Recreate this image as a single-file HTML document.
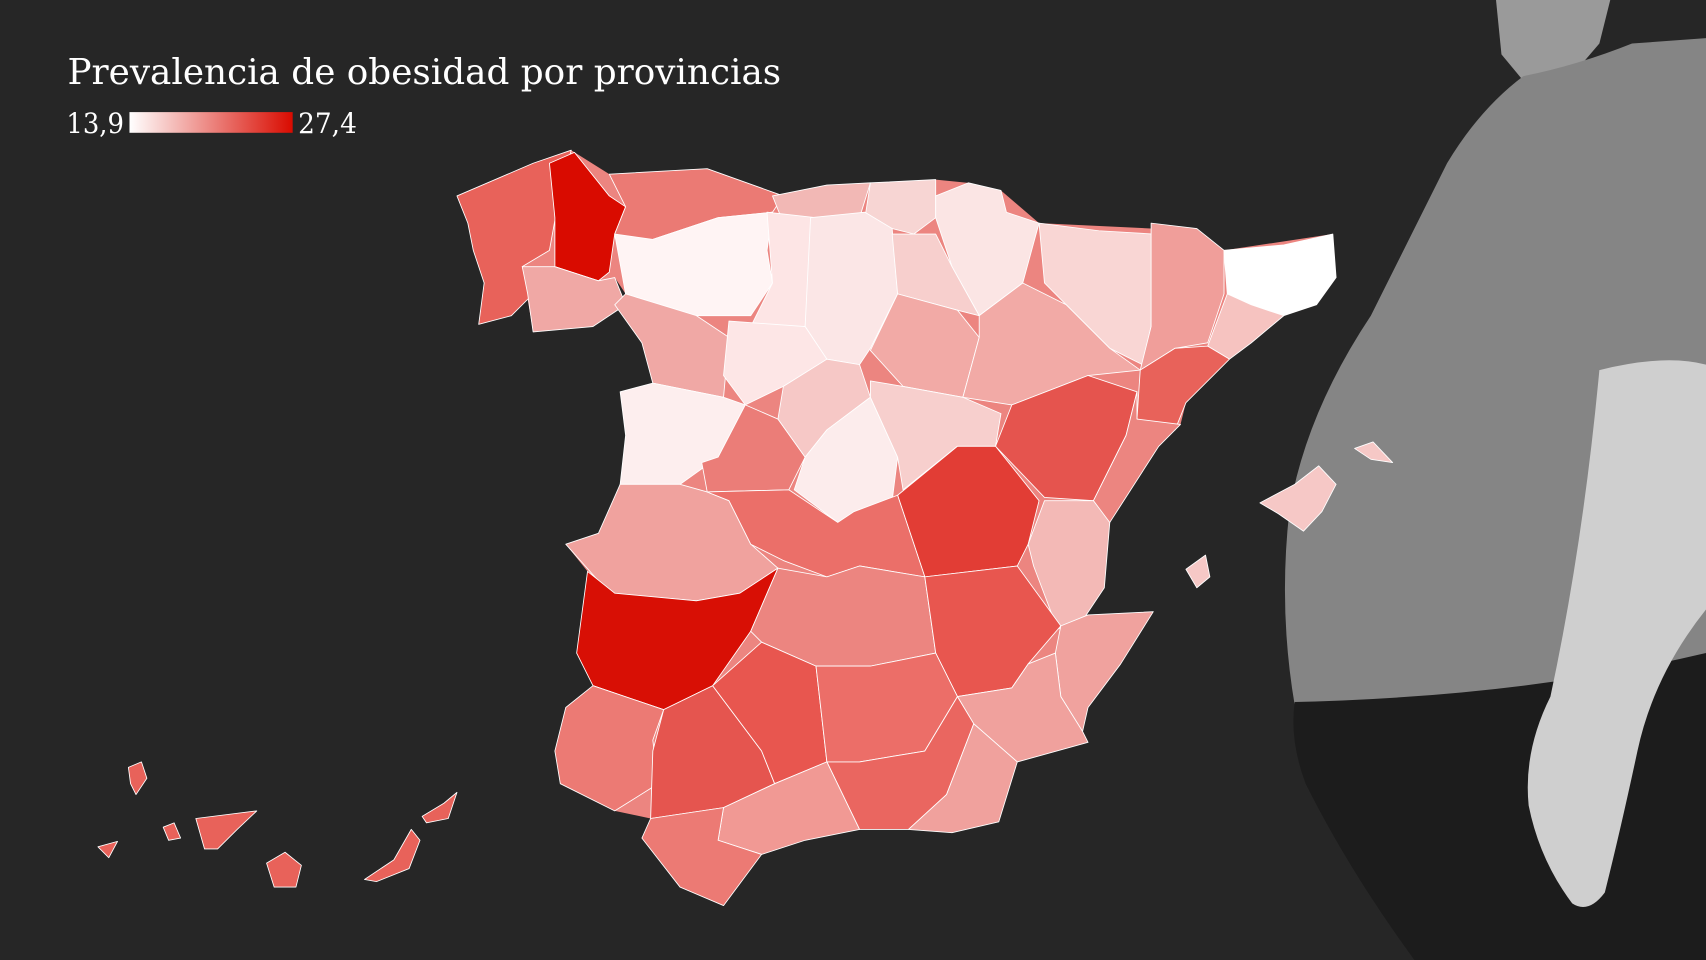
<!DOCTYPE html>
<html><head><meta charset="utf-8"><style>
html,body{margin:0;padding:0;background:#262626;overflow:hidden}
svg{display:block}
</style></head><body>
<svg width="1706" height="960" viewBox="0 0 1568 882" preserveAspectRatio="none" xmlns="http://www.w3.org/2000/svg">
<rect width="1568" height="882" fill="#262626"/>
<!-- man -->
<path d="M1375,0 L1480,0 L1470,40 L1440,75 L1405,80 L1380,50 Z" fill="#9a9a9a"/>
<path d="M1400,70 Q1450,60 1500,40 L1568,35 L1568,620 Q1400,645 1190,648 Q1175,560 1185,470 Q1200,380 1260,290 Q1300,210 1330,150 Q1360,100 1400,70 Z" fill="#858585"/>
<path d="M1190,645 Q1400,640 1568,600 L1568,882 L1300,882 Q1240,800 1200,720 Q1185,680 1190,645 Z" fill="#1c1c1c"/>
<path d="M1470,340 Q1530,325 1568,335 L1568,560 Q1520,620 1505,690 Q1490,760 1475,820 Q1460,840 1445,830 Q1415,790 1405,740 Q1400,690 1425,640 Q1455,500 1470,340 Z" fill="#cfcfcf"/>
<!-- underlay -->
<polygon fill="#ec8580" points="420,180 525,138 560,160 650,155 720,180 800,168 860,165 890,168 920,175 955,205 1060,210 1100,210 1125,230 1225,215 1228,255 1210,280 1180,290 1130,330 1090,370 1085,390 1065,410 1020,480 1015,540 995,570 1060,562 1030,610 1000,650 995,672 1000,682 935,700 918,755 875,765 835,762 790,762 740,772 700,785 665,832 625,815 590,770 598,752 565,745 515,720 510,690 520,650 545,630 530,600 540,525 520,500 550,490 570,445 575,400 570,360 600,352 590,315 565,280 575,270 565,255 550,258 545,300 490,305 480,245 470,290 440,298 445,260 435,230 430,205"/>
<g stroke="#ffffff" stroke-width="0.8" stroke-linejoin="round">
<polygon fill="#e8625a" points="420,180 490,150 525,138 515,175 505,230 480,245 490,270 470,290 440,298 445,260 435,230 430,205"/>
<polygon fill="#d90b00" points="505,150 528,140 560,180 575,190 565,215 560,250 550,258 510,245 510,200"/>
<polygon fill="#f0a8a5" points="480,245 510,245 550,258 565,255 575,280 545,300 490,305 485,270"/>
<polygon fill="#eb7a74" points="560,160 650,155 720,180 710,195 660,200 600,220 575,240 565,215 575,190"/>
<polygon fill="#f2b8b5" points="710,180 760,170 800,168 790,200 760,205 720,205"/>
<polygon fill="#f7d5d3" points="800,168 860,165 860,200 840,215 820,210 795,200"/>
<polygon fill="#fbe5e4" points="860,180 890,168 920,175 925,195 955,205 940,260 900,290 875,245 860,200"/>
<polygon fill="#fff4f4" points="565,215 600,220 660,200 710,195 705,230 710,260 690,290 640,290 575,270"/>
<polygon fill="#fde5e5" points="705,195 750,200 745,260 740,300 690,300 710,260"/>
<polygon fill="#fbe6e6" points="745,200 795,195 820,210 825,270 800,320 790,335 760,330 740,300"/>
<polygon fill="#f7cfcd" points="820,215 860,215 875,245 900,290 880,285 825,270"/>
<polygon fill="#f9d6d4" points="955,205 1010,212 1060,215 1058,300 1050,335 1020,320 980,280 960,260"/>
<polygon fill="#f09e9a" points="1058,205 1100,210 1125,230 1125,270 1110,315 1080,320 1048,340 1058,300"/>
<polygon fill="#ffffff" points="1125,230 1180,225 1225,215 1228,255 1210,280 1180,290 1150,280 1128,270"/>
<polygon fill="#f6c3c0" points="1128,270 1150,280 1180,290 1150,315 1130,330 1110,318"/>
<polygon fill="#e8625a" points="1048,340 1080,320 1110,318 1130,330 1090,370 1080,395 1045,385"/>
<polygon fill="#f0a8a5" points="565,280 575,270 640,290 670,310 665,365 600,352 590,315"/>
<polygon fill="#fde6e6" points="670,295 740,300 760,330 720,355 685,372 665,345"/>
<polygon fill="#f2aaa6" points="825,270 880,285 900,310 885,365 830,355 800,322"/>
<polygon fill="#f2aaa6" points="900,290 940,260 980,280 1020,320 1048,340 1000,345 930,372 885,365 900,310"/>
<polygon fill="#e5544e" points="930,372 1000,345 1045,360 1035,400 1005,460 960,457 915,410"/>
<polygon fill="#ec8580" points="1045,360 1045,385 1085,390 1065,410 1020,480 990,470 1005,460 1035,400"/>
<polygon fill="#fdeeee" points="570,360 600,352 665,365 685,372 660,420 625,445 570,445 575,400"/>
<polygon fill="#eb7d78" points="685,372 715,385 740,420 725,450 650,452 645,425 660,420"/>
<polygon fill="#f6c8c6" points="720,355 760,330 790,335 800,365 760,395 740,420 715,385"/>
<polygon fill="#fcecec" points="800,365 825,420 820,460 785,470 770,480 730,450 740,420 760,395"/>
<polygon fill="#f7cfcd" points="800,350 830,355 885,365 920,380 915,410 880,410 830,450 825,420 800,365"/>
<polygon fill="#e23d35" points="825,455 880,410 915,410 955,460 945,500 935,520 850,530"/>
<polygon fill="#f3b9b6" points="960,460 1005,460 1020,480 1015,540 995,570 972,578 950,520 945,500"/>
<polygon fill="#f0a29e" points="570,445 625,445 650,452 670,460 690,500 715,522 680,545 640,552 560,545 520,500 550,490"/>
<polygon fill="#eb6f69" points="650,452 725,450 770,480 785,470 825,455 850,530 790,520 760,530 720,515 690,500 670,460"/>
<polygon fill="#d80f05" points="540,525 565,545 640,552 680,545 715,522 690,580 655,630 610,652 545,630 530,600"/>
<polygon fill="#ec8580" points="715,522 760,530 790,520 850,530 860,600 800,612 750,612 700,590 690,580"/>
<polygon fill="#e8564f" points="850,530 935,520 975,575 945,610 930,632 880,640 860,600"/>
<polygon fill="#f0a29e" points="975,575 1000,565 1060,562 1030,610 1000,650 995,672 975,640 970,600"/>
<polygon fill="#f0a19d" points="880,640 930,632 945,610 970,600 975,640 995,672 1000,682 935,700 895,665"/>
<polygon fill="#ec7a74" points="545,630 610,652 600,680 605,720 565,745 515,720 510,690 520,650"/>
<polygon fill="#e5554f" points="610,652 655,630 700,690 712,720 665,742 598,752 600,690"/>
<polygon fill="#e8564f" points="655,630 700,590 750,612 760,700 712,720 700,690"/>
<polygon fill="#ec6e68" points="750,612 800,612 860,600 880,640 850,690 790,700 760,700"/>
<polygon fill="#ea6660" points="760,700 790,700 850,690 880,640 895,665 870,730 835,762 790,762"/>
<polygon fill="#f0a19d" points="895,665 935,700 918,755 875,765 835,762 870,730"/>
<polygon fill="#f19994" points="665,742 712,720 760,700 790,762 740,772 700,785 660,772"/>
<polygon fill="#ec7a74" points="598,752 665,742 660,772 700,785 665,832 625,815 590,770"/>
<polygon fill="#f6c8c6" points="1158,462 1190,445 1212,428 1228,445 1215,470 1198,488 1175,472"/>
<polygon fill="#f6c8c6" points="1245,412 1262,406 1280,425 1260,422"/>
<polygon fill="#f6c8c6" points="1090,523 1108,510 1112,530 1100,540"/>
<polygon fill="#e8625a" points="118,705 130,700 135,715 125,730 120,720"/>
<polygon fill="#e8625a" points="90,778 108,773 100,788"/>
<polygon fill="#e8625a" points="150,760 160,756 166,770 155,772"/>
<polygon fill="#e8625a" points="180,752 236,745 218,762 200,780 188,780"/>
<polygon fill="#e8625a" points="245,793 262,783 277,795 272,815 252,815"/>
<polygon fill="#e8625a" points="335,808 362,790 378,762 386,772 376,798 346,810"/>
<polygon fill="#e8625a" points="388,750 408,738 420,728 412,752 392,756"/>
</g>
<text x="62" y="77" font-family="'DejaVu Serif',serif" font-size="33" fill="#ffffff" textLength="656" lengthAdjust="spacingAndGlyphs">Prevalencia de obesidad por provincias</text>
<defs><linearGradient id="g" x1="0" x2="1"><stop offset="0" stop-color="#ffffff"/><stop offset="1" stop-color="#d90b00"/></linearGradient></defs>
<text x="61" y="122" font-family="'DejaVu Serif',serif" font-size="26" fill="#ffffff" textLength="53" lengthAdjust="spacingAndGlyphs">13,9</text>
<rect x="119" y="103" width="150" height="19" fill="url(#g)"/>
<text x="274" y="122" font-family="'DejaVu Serif',serif" font-size="26" fill="#ffffff" textLength="54" lengthAdjust="spacingAndGlyphs">27,4</text>
</svg>
</body></html>
